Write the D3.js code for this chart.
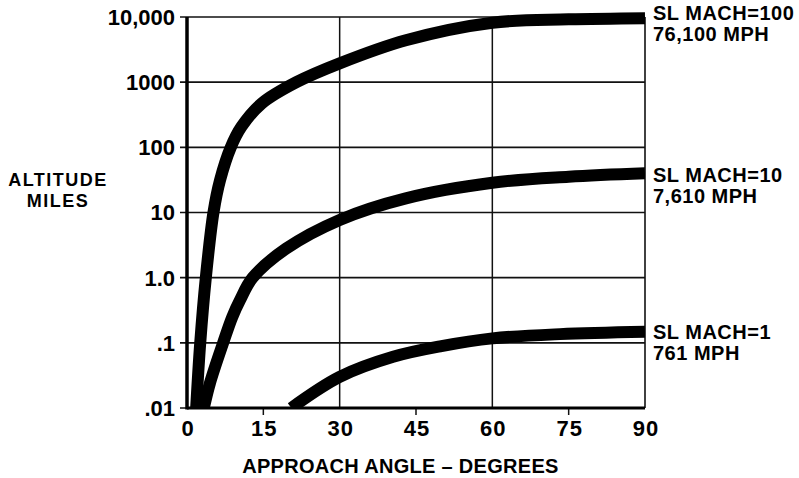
<!DOCTYPE html>
<html>
<head>
<meta charset="utf-8">
<script src="https://cdn.jsdelivr.net/npm/d3@7"></script>
<style>
  body { margin: 0; background: #fff; }
  text { font-family: "Liberation Sans", Arial, sans-serif; font-weight: bold; fill: #000; }
</style>
</head>
<body>
<svg id="chart"></svg>
<script>
// approach angle (deg) vs altitude (miles)
const mach100_angle = [1.8, 2.6, 3.7, 5.2, 6.5, 8.6, 10.7, 14.7, 21.5, 30, 43, 60, 75, 90];
const mach100_alt   = [0.01, 0.1, 1.0, 10, 31.5, 100, 207, 473, 1000, 1946, 4400, 8180, 9200, 9600];

const mach10_angle = [3.3, 4.5, 7.1, 8.9, 10.4, 12.9, 19.5, 30, 43, 60, 75, 90];
const mach10_alt   = [0.01, 0.024, 0.1, 0.25, 0.45, 1.0, 2.8, 7.7, 16.5, 28.6, 35.4, 40];

const mach1_angle = [20.5, 30, 40.5, 50, 60, 73.3, 90];
const mach1_alt   = [0.01, 0.030, 0.061, 0.089, 0.117, 0.136, 0.148];

const y_ticks = [0.01, 0.1, 1, 10, 100, 1000, 10000];
const y_tick_labels = ['.01', '.1', '1.0', '10', '100', '1000', '10,000'];
const x_ticks = [0, 15, 30, 45, 60, 75, 90];
const x_grid = [30, 60];

const series_labels = [
    {lines: ['SL MACH=100', '76,100 MPH'], y: 20},
    {lines: ['SL MACH=10', '7,610 MPH'], y: 182},
    {lines: ['SL MACH=1', '761 MPH'], y: 339}
];

const width = 799, height = 478;
const margin = {top: 17, right: 154, bottom: 70, left: 187};
const inner_width = width - margin.left - margin.right;
const inner_height = height - margin.top - margin.bottom;

const svg = d3.select('#chart')
    .attr('width', width)
    .attr('height', height);

const chart = svg.append('g')
    .attr('transform', `translate(${margin.left},${margin.top})`);

const x = d3.scaleLinear().domain([0, 90]).range([0, inner_width]);
const y = d3.scaleLog().domain([0.01, 10000]).range([inner_height, 0]);

// horizontal grid
chart.selectAll('.hgrid')
    .data(y_ticks)
    .enter()
    .append('line')
    .attr('x1', -7)
    .attr('x2', inner_width)
    .attr('y1', d => y(d))
    .attr('y2', d => y(d))
    .attr('stroke', '#111')
    .attr('stroke-width', 1.6);

// vertical grid
chart.selectAll('.vgrid')
    .data(x_grid)
    .enter()
    .append('line')
    .attr('x1', d => x(d))
    .attr('x2', d => x(d))
    .attr('y1', 0)
    .attr('y2', inner_height)
    .attr('stroke', '#111')
    .attr('stroke-width', 1.5);

// right border
chart.append('line')
    .attr('x1', inner_width).attr('x2', inner_width)
    .attr('y1', 0).attr('y2', inner_height)
    .attr('stroke', '#111').attr('stroke-width', 1.6);

// small ticks under x axis
chart.selectAll('.xtick')
    .data([15, 45, 75])
    .enter()
    .append('line')
    .attr('x1', d => x(d)).attr('x2', d => x(d))
    .attr('y1', inner_height).attr('y2', inner_height + 7)
    .attr('stroke', '#111').attr('stroke-width', 1.5);

// curves
chart.append('clipPath')
    .attr('id', 'plot-clip')
    .append('rect')
    .attr('x', 0).attr('y', -30)
    .attr('width', inner_width).attr('height', inner_height + 30);

const line = d3.line()
    .x(d => x(d[0]))
    .y(d => y(d[1]))
    .curve(d3.curveCatmullRom.alpha(0.5));

const curves = [
    d3.zip(mach100_angle, mach100_alt),
    d3.zip(mach10_angle, mach10_alt),
    d3.zip(mach1_angle, mach1_alt)
];

chart.append('g')
    .attr('clip-path', 'url(#plot-clip)')
    .selectAll('path')
    .data(curves)
    .enter()
    .append('path')
    .attr('d', line)
    .attr('fill', 'none')
    .attr('stroke', '#000')
    .attr('stroke-width', 12);

// axes lines (thick left and bottom)
chart.append('line')
    .attr('x1', 0).attr('x2', 0)
    .attr('y1', 0).attr('y2', inner_height + 1.5)
    .attr('stroke', '#000').attr('stroke-width', 3.5);
chart.append('line')
    .attr('x1', 0).attr('x2', inner_width)
    .attr('y1', inner_height).attr('y2', inner_height)
    .attr('stroke', '#000').attr('stroke-width', 3);

// y tick labels
chart.selectAll('.ylabel')
    .data(y_ticks)
    .enter()
    .append('text')
    .attr('x', -12)
    .attr('y', d => y(d))
    .attr('dy', '0.36em')
    .attr('text-anchor', 'end')
    .style('font-size', '22px')
    .text((d, i) => y_tick_labels[i]);

// x tick labels
chart.selectAll('.xlabel')
    .data(x_ticks)
    .enter()
    .append('text')
    .attr('x', d => x(d) + 1)
    .attr('y', inner_height + 28)
    .attr('text-anchor', 'middle')
    .style('font-size', '22px')
    .style('letter-spacing', '1px')
    .text(d => d);

// axis titles
svg.append('text')
    .attr('x', (243 + 558) / 2)
    .attr('y', 473)
    .attr('text-anchor', 'middle')
    .style('font-size', '20px')
    .style('letter-spacing', '0.3px')
    .text('APPROACH  ANGLE – DEGREES');

svg.append('text')
    .attr('x', 58)
    .attr('y', 186)
    .attr('text-anchor', 'middle')
    .style('font-size', '18px')
    .style('letter-spacing', '1.5px')
    .text('ALTITUDE');
svg.append('text')
    .attr('x', 58)
    .attr('y', 207)
    .attr('text-anchor', 'middle')
    .style('font-size', '18px')
    .style('letter-spacing', '1.5px')
    .text('MILES');

// series labels on the right
series_labels.forEach(s => {
    s.lines.forEach((t, i) => {
        svg.append('text')
            .attr('x', 653)
            .attr('y', s.y + i * 21)
            .style('font-size', '20px')
            .style('letter-spacing', '0.5px')
            .text(t);
    });
});
</script>
</body>
</html>
